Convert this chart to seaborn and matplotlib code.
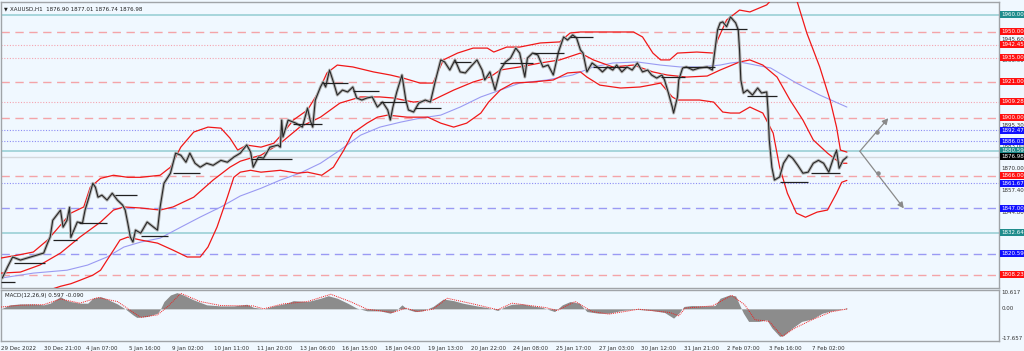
import numpy as np
import pandas as pd
import matplotlib
matplotlib.use("Agg")
import matplotlib.pyplot as plt
import matplotlib.transforms as mtransforms
import seaborn as sns

# ---------------- data (bar index = hourly bar number) ----------------
price_bar = [1, 5, 9, 15, 23, 28, 33, 36, 38, 40, 46, 48, 51, 53, 54, 59, 63, 65, 68, 71, 73, 75, 78, 82, 86, 90, 94, 96, 98, 100,
             102, 104, 108, 113, 118, 121, 123, 126, 129, 131, 133, 135, 139, 143, 146, 150, 154, 159, 164, 170, 175, 180, 185, 190,
             193, 195, 199, 203, 208, 214, 216, 217, 218, 222, 228, 233, 237, 239, 241, 243, 247, 249, 251, 254, 257, 260, 264, 268,
             272, 275, 279, 283, 287, 291, 295, 299, 301, 303, 306, 310, 313, 315, 319, 323, 328, 332, 336, 340, 343, 347, 351, 355,
             359, 363, 368, 372, 374, 378, 382, 386, 390, 394, 398, 401, 405, 407, 411, 415, 419, 423, 427, 431, 435, 438, 442, 445,
             448, 450, 453, 457, 461, 465, 469, 473, 476, 480, 484, 488, 492, 496, 500, 503, 507, 511, 513, 516, 519, 520, 523, 524,
             527, 530, 535, 540, 546, 550, 551, 554, 556, 558, 561, 564, 568, 570, 571, 572, 574, 577, 581, 585, 588, 592, 593, 594,
             596, 598, 602, 605, 609, 612, 616, 620, 624, 628, 632, 636, 640, 643, 646, 648, 651, 654]
price_close = [1806.3, 1812.7, 1818.6, 1816.8, 1818.6, 1819.7, 1820.9, 1826.7, 1830.2, 1840.0, 1845.9, 1836.0, 1840.0, 1847.6,
               1830.0, 1839.0, 1838.4, 1846.0, 1853.5, 1861.6, 1859.3, 1853.5, 1854.7, 1851.8, 1855.8, 1851.8, 1848.9, 1846.0,
               1838.4, 1830.2, 1827.3, 1834.3, 1832.5, 1839.0, 1836.0, 1834.3, 1847.6, 1861.6, 1865.1, 1867.5, 1873.3, 1879.2,
               1878.0, 1873.9, 1879.2, 1873.3, 1871.0, 1873.3, 1872.1, 1875.0, 1873.9, 1876.9, 1879.2, 1884.0, 1879.8, 1871.0,
               1876.9, 1876.3, 1882.7, 1883.9, 1882.7, 1898.5, 1888.6, 1898.5, 1896.7, 1894.4, 1905.5, 1898.5, 1894.4, 1910.2,
               1917.8, 1920.7, 1917.8, 1927.7, 1920.7, 1913.1, 1916.0, 1914.9, 1917.8, 1911.4, 1910.2, 1911.4, 1912.0, 1906.1,
               1909.0, 1904.4, 1898.5, 1906.1, 1914.9, 1924.8, 1910.2, 1904.4, 1903.2, 1908.4, 1910.2, 1909.0, 1921.9, 1933.6,
               1932.4, 1927.7, 1933.6, 1926.6, 1926.0, 1929.5, 1933.6, 1927.7, 1921.9, 1926.6, 1916.0, 1927.7, 1932.4, 1934.7,
               1940.5, 1937.6, 1923.6, 1934.7, 1937.6, 1936.5, 1929.5, 1930.6, 1924.8, 1938.2, 1947.0, 1945.2, 1948.2, 1946.4,
               1939.4, 1937.6, 1926.6, 1931.8, 1929.5, 1926.6, 1929.5, 1927.7, 1930.6, 1926.6, 1929.5, 1927.7, 1931.8, 1926.6,
               1927.7, 1924.8, 1923.0, 1924.8, 1921.9, 1914.3, 1906.1, 1902.6, 1912.0, 1921.9, 1928.9, 1929.5, 1927.7, 1928.9,
               1929.5, 1927.7, 1933.6, 1951.1, 1955.2, 1955.8, 1953.0, 1958.7, 1955.2, 1951.1, 1939.4, 1921.9, 1914.3, 1916.0,
               1913.1, 1917.2, 1914.3, 1914.9, 1904.4, 1886.9, 1871.0, 1863.5, 1865.3, 1873.3, 1878.0, 1876.3, 1872.1, 1867.5,
               1868.1, 1873.3, 1875.0, 1873.3, 1868.1, 1875.0, 1880.9, 1870.4, 1875.0, 1876.98]

upper_bar = [0, 13, 25, 36, 46, 54, 64, 69, 77, 87, 98, 108, 123, 131, 139, 149, 160, 170, 177, 183, 190, 201, 211, 218, 226,
             237, 245, 252, 260, 272, 288, 301, 311, 324, 334, 342, 353, 365, 376, 381, 391, 401, 417, 432, 440, 448, 473, 489,
             496, 504, 510, 517, 523, 538, 551, 554, 561, 571, 579, 592, 596, 606, 615, 623, 633, 641, 646, 649, 654]
upper_val = [1818.0, 1819.7, 1821.5, 1828.5, 1837.2, 1844.2, 1847.8, 1859.3, 1864.5, 1866.3, 1865.1, 1865.1, 1866.3, 1871.0,
             1882.7, 1891.5, 1894.4, 1893.8, 1888.0, 1881.0, 1883.9, 1882.7, 1885.0, 1890.9, 1898.5, 1904.4, 1914.3, 1926.0,
             1930.6, 1929.5, 1926.6, 1924.8, 1923.0, 1920.1, 1920.1, 1933.6, 1937.6, 1940.5, 1940.5, 1938.2, 1941.1, 1941.1,
             1943.5, 1944.1, 1949.3, 1949.9, 1949.9, 1949.9, 1947.0, 1937.6, 1933.6, 1933.6, 1937.6, 1938.2, 1937.6, 1945.2,
             1956.9, 1962.7, 1961.6, 1965.7, 1969.0, 1985.0, 1969.0, 1949.3, 1929.5, 1910.2, 1894.4, 1881.0, 1879.8]

middle_bar = [0, 15, 30, 46, 61, 77, 87, 95, 108, 123, 133, 149, 164, 177, 185, 193, 201, 216, 231, 247, 262, 278, 293, 303,
              319, 334, 350, 365, 378, 386, 401, 417, 432, 448, 458, 473, 489, 504, 515, 530, 546, 556, 564, 571, 579, 589, 600,
              610, 620, 628, 639, 649, 654]
middle_val = [1809.2, 1809.8, 1813.9, 1820.9, 1830.2, 1839.0, 1846.0, 1847.8, 1847.2, 1846.0, 1847.8, 1853.5, 1863.5, 1871.0,
              1874.5, 1876.3, 1878.0, 1885.0, 1894.4, 1900.2, 1908.4, 1912.0, 1912.0, 1911.4, 1909.0, 1910.2, 1916.0, 1920.7,
              1923.6, 1927.7, 1929.5, 1931.8, 1933.6, 1937.6, 1933.6, 1929.5, 1930.6, 1926.6, 1924.8, 1923.6, 1924.2, 1927.7,
              1930.2, 1932.4, 1933.6, 1930.6, 1923.6, 1910.2, 1898.5, 1886.9, 1879.2, 1873.3, 1873.3]

lower_bar = [30, 38, 46, 54, 61, 71, 77, 82, 87, 92, 98, 108, 121, 133, 144, 154, 160, 167, 175, 180, 185, 193, 201, 216, 229,
             237, 248, 257, 265, 272, 283, 291, 299, 314, 330, 340, 350, 360, 371, 377, 386, 396, 411, 427, 438, 448, 453, 463,
             479, 494, 502, 510, 519, 523, 540, 551, 558, 564, 571, 579, 589, 597, 602, 608, 615, 622, 631, 639, 646, 650, 654]
lower_val = [1795.0, 1799.5, 1801.5, 1803.0, 1805.0, 1808.0, 1810.9, 1816.8, 1822.6, 1828.5, 1830.2, 1828.5, 1826.7, 1822.6,
             1818.6, 1818.6, 1824.4, 1836.0, 1853.5, 1865.1, 1868.1, 1869.2, 1868.1, 1869.2, 1867.5, 1868.1, 1866.3, 1871.0,
             1880.9, 1890.9, 1896.7, 1900.2, 1901.4, 1900.2, 1900.2, 1896.7, 1894.4, 1896.7, 1902.6, 1909.0, 1916.0, 1920.1,
             1920.7, 1921.9, 1926.0, 1926.6, 1923.6, 1918.9, 1917.2, 1917.8, 1918.9, 1920.1, 1912.0, 1910.2, 1910.2, 1909.0,
             1903.2, 1902.6, 1902.6, 1906.1, 1902.6, 1890.9, 1871.0, 1855.8, 1844.2, 1841.8, 1844.8, 1846.0, 1855.8, 1862.2,
             1863.3]

ma_bar = [0, 25, 51, 67, 82, 95, 108, 123, 139, 154, 170, 185, 201, 216, 231, 247, 262, 278, 293, 309, 324, 340, 355, 371,
          386, 401, 422, 442, 458, 473, 492, 510, 525, 540, 556, 564, 571, 595, 615, 633, 654]
ma_val = [1806.3, 1809.2, 1810.9, 1813.9, 1818.6, 1824.4, 1827.3, 1829.6, 1836.0, 1841.9, 1847.8, 1854.2, 1858.7, 1863.5,
          1867.5, 1873.3, 1880.9, 1889.7, 1894.4, 1897.3, 1899.6, 1901.4, 1906.1, 1912.0, 1916.0, 1920.1, 1921.9, 1924.8,
          1929.5, 1931.8, 1932.4, 1930.6, 1929.5, 1929.5, 1930.6, 1931.8, 1932.4, 1928.9, 1920.1, 1913.1, 1906.1]

# short daily open segments: start bar, end bar, price
seg_start = [0, 10, 40, 60, 88, 108, 133, 193, 226, 249, 272, 293, 320, 350, 386, 411, 440, 458, 510, 527, 554, 577, 602, 626]
seg_end = [11, 34, 59, 82, 105, 129, 154, 225, 248, 268, 292, 313, 340, 363, 411, 435, 458, 484, 529, 552, 577, 600, 624, 649]
seg_price = [1804.3, 1815.0, 1828.5, 1838.6, 1854.7, 1830.8, 1867.8, 1875.6, 1896.2, 1920.4, 1915.6, 1909.2, 1905.4, 1932.6,
             1931.8, 1937.5, 1946.8, 1929.6, 1923.5, 1929.6, 1951.5, 1912.5, 1862.5, 1867.8]

# horizontal levels
level_prices = [1960.00, 1950.00, 1942.45, 1935.00, 1921.00, 1909.28, 1900.00, 1892.47, 1886.03, 1880.59, 1866.00, 1861.67,
                1847.00, 1832.64, 1820.59, 1808.23]
level_kinds = ["teal", "red_dash", "red_dot", "red_dot", "red_dash", "red_dot", "red_dash", "blue_dot", "blue_dot", "teal",
               "red_dash", "blue_dot", "blue_dash", "teal", "blue_dash", "red_dash"]
grid_labels = [1945.60, 1933.00, 1895.30, 1883.00, 1870.00, 1857.40, 1844.80]
bid_price = 1876.98

# projection arrows
arrow_start = (664, 1880.3)
arrow_up = (686, 1899.6)
arrow_down = (698, 1847.0)
arrow_dots_bar = [677, 678]
arrow_dots_price = [1891.7, 1867.6]

# MACD
macd_bar = [0, 7, 15, 25, 33, 38, 42, 46, 50, 54, 61, 67, 71, 77, 82, 90, 96, 102, 105, 113, 121, 123, 126, 131, 136, 141,
            149, 159, 170, 180, 190, 195, 203, 211, 221, 226, 237, 247, 253, 260, 268, 275, 283, 293, 301, 306, 310, 314, 320,
            326, 334, 342, 350, 357, 368, 376, 384, 390, 395, 403, 411, 418, 428, 434, 440, 447, 453, 462, 470, 480, 490, 503,
            513, 520, 524, 528, 534, 544, 552, 556, 563, 568, 571, 574, 578, 586, 592, 596, 602, 605, 612, 619, 627, 635, 642,
            650, 654]
macd_val = [0.0, 2.2, 2.7, 2.7, 2.2, 3.1, 4.9, 6.7, 4.9, 4.0, 3.1, 3.1, 5.8, 6.7, 5.3, 2.7, 0.0, -3.3, -4.7, -4.2, -2.4, -0.5,
            4.0, 7.6, 8.9, 7.6, 4.9, 2.2, 1.6, 1.6, 2.5, 0.9, 0.0, 1.6, 3.1, 4.5, 4.0, 5.8, 7.2, 5.8, 3.1, 0.4, -1.1, -1.1, -2.4,
            -0.5, 2.2, -0.2, -1.5, -1.1, 1.3, 5.4, 4.5, 3.1, 1.6, 0.7, -0.9, 1.3, 2.5, 2.7, 1.6, 0.9, -1.5, 2.2, 4.0, 3.1, -1.5,
            -2.4, -2.4, -0.9, -0.2, -0.9, -2.0, -5.1, -2.4, 1.3, 1.8, 1.6, 1.8, 5.8, 7.6, 7.1, 2.2, -2.4, -6.9, -6.9, -6.0,
            -10.5, -15.1, -14.7, -10.5, -6.9, -5.6, -2.4, -1.1, -0.2, 0.597]
signal_bar = [0, 15, 33, 46, 61, 75, 90, 108, 121, 129, 139, 154, 170, 195, 203, 218, 237, 255, 270, 283, 303, 313, 322, 334,
              345, 365, 384, 395, 421, 430, 444, 457, 470, 493, 517, 524, 529, 550, 565, 575, 583, 594, 604, 614, 627, 642, 654]
signal_val = [1.0, 2.0, 2.3, 5.4, 3.1, 6.2, 4.0, -4.7, -3.3, 1.3, 8.5, 4.0, 1.8, 1.6, 0.0, 2.7, 4.0, 8.0, 4.0, -0.2, -2.0,
              0.4, -1.5, -0.2, 5.8, 2.7, -0.5, 3.1, 0.7, -0.9, 4.0, -1.5, -2.9, -0.2, -2.0, -3.8, 0.4, 1.6, 7.4, 2.2, -6.0,
              -6.9, -15.1, -10.5, -6.0, -1.6, -0.09]

tick_labels = ["29 Dec 2022", "30 Dec 21:00", "4 Jan 07:00", "5 Jan 16:00", "9 Jan 02:00", "10 Jan 11:00", "11 Jan 20:00",
               "13 Jan 06:00", "16 Jan 15:00", "18 Jan 04:00", "19 Jan 13:00", "20 Jan 22:00", "24 Jan 08:00",
               "25 Jan 17:00", "27 Jan 03:00", "30 Jan 12:00", "31 Jan 21:00", "2 Feb 07:00", "3 Feb 16:00", "7 Feb 02:00"]
bars_per_tick = 33

# ---------------- styling ----------------
sns.set_style("white")
plt.rcParams["font.family"] = ["DejaVu Sans"]
BG = "#f0f8ff"
W, H = 1024, 351
fig = plt.figure(figsize=(W / 100, H / 100), dpi=100, facecolor=BG)

def frac(x0, y0, x1, y1):
    return [x0 / W, 1 - y1 / H, (x1 - x0) / W, (y1 - y0) / H]

ax = fig.add_axes(frac(1, 2, 999, 287.5))
axm = fig.add_axes(frac(1, 289.5, 999, 341), sharex=ax)
for a in (ax, axm):
    a.set_facecolor(BG)
    for s in a.spines.values():
        s.set_color("#a0a4a8")
        s.set_linewidth(1.0)

XMIN, XMAX = 0.3, 771.6
ax.set_xlim(XMIN, XMAX)
ax.set_ylim(1800.8, 1967.4)

level_style = {
    "teal": dict(color="#a6d6dc", ls="-", lw=1.4),
    "red_dash": dict(color="#f4a4a8", ls=(0, (6, 4)), lw=1.0),
    "red_dot": dict(color="#f4a4b0", ls=(0, (1, 1.5)), lw=0.8),
    "blue_dot": dict(color="#8c8cf4", ls=(0, (1, 1.5)), lw=0.8),
    "blue_dash": dict(color="#9a9af4", ls=(0, (6, 4)), lw=1.0),
}
for p, k in zip(level_prices, level_kinds):
    ax.axhline(p, zorder=1, **level_style[k])
ax.axhline(bid_price, color="#d4d8dc", lw=1.0, zorder=1)

# bands and MA
sns.lineplot(x=ma_bar, y=ma_val, ax=ax, color="#9a9af2", lw=0.8, zorder=2)
sns.lineplot(x=upper_bar, y=upper_val, ax=ax, color="#f01818", lw=0.9, zorder=3)
sns.lineplot(x=middle_bar, y=middle_val, ax=ax, color="#f01818", lw=0.9, zorder=3)
sns.lineplot(x=lower_bar, y=lower_val, ax=ax, color="#f01818", lw=0.9, zorder=3)

# price (candles approximated by a line with a soft gray body)
sns.lineplot(x=price_bar, y=price_close, ax=ax, color="#b4b4b4", lw=2.2, zorder=4)
sns.lineplot(x=price_bar, y=price_close, ax=ax, color="#262626", lw=0.8, zorder=5)
ax.hlines(seg_price, seg_start, seg_end, colors="#202020", lw=0.9, zorder=5)

# arrows
for tgt in (arrow_up, arrow_down):
    ax.annotate("", xy=tgt, xytext=arrow_start,
                arrowprops=dict(arrowstyle="-|>,head_length=0.35,head_width=0.18", color="#8a8a8a", lw=0.9,
                                shrinkA=0, shrinkB=0), zorder=6)
ax.scatter(arrow_dots_bar, arrow_dots_price, s=5, color="#8a8a8a", zorder=6)

ax.tick_params(axis="both", which="both", length=0, labelbottom=False, labelleft=False)
ax.set_xlabel("")
ax.set_ylabel("")

# right-side price labels
tr = mtransforms.blended_transform_factory(ax.transAxes, ax.transData)
FS = 4.0
for p in grid_labels:
    ax.text(1.0025, p, f"{p:.2f}", transform=tr, fontsize=FS, color="#303030", va="center", ha="left",
            clip_on=False, zorder=1)
box_colors = {"teal": "#1f8c8c", "red_dash": "#ff1010", "red_dot": "#ff1010", "blue_dot": "#1010ff", "blue_dash": "#1010ff"}
for p, k in zip(level_prices, level_kinds):
    ax.text(1.0025, p, f"{p:.2f}", transform=tr, fontsize=FS, color="white", va="center", ha="left", clip_on=False,
            zorder=10, bbox=dict(boxstyle="square,pad=0.18", fc=box_colors[k], ec="none"))
ax.text(1.0025, bid_price, f"{bid_price:.2f}", transform=tr, fontsize=FS, color="white", va="center", ha="left",
        clip_on=False, zorder=11, bbox=dict(boxstyle="square,pad=0.18", fc="#000000", ec="none"))

ax.text(0.003, 0.985, "\u25bc", transform=ax.transAxes, fontsize=3.5, color="#202020", va="top", ha="left")
ax.text(0.009, 0.985, "XAUUSD,H1  1876.90 1877.01 1876.74 1876.98", transform=ax.transAxes, fontsize=4,
        color="#202020", va="top", ha="left")

# ---------------- MACD ----------------
axm.set_ylim(-17.657, 10.617)
axm.fill_between(macd_bar, 0, macd_val, color="#8c8c8c", lw=0, zorder=2)
sns.lineplot(x=signal_bar, y=signal_val, ax=axm, color="#f02020", lw=0.7, ls=(0, (1, 1)), zorder=3)
axm.text(0.004, 0.93, "MACD(12,26,9) 0.597 -0.090", transform=axm.transAxes, fontsize=4, color="#202020",
         va="top", ha="left")
trm = mtransforms.blended_transform_factory(axm.transAxes, axm.transData)
for v, lab, va in [(10.617, "10.617", "top"), (0.0, "0.00", "center"), (-17.657, "-17.657", "bottom")]:
    axm.text(1.0025, v, lab, transform=trm, fontsize=FS, color="#303030", va=va, ha="left", clip_on=False)

ticks = [i * bars_per_tick for i in range(len(tick_labels))]
axm.set_xticks(ticks)
axm.set_xticklabels(tick_labels, fontsize=4, color="#303030", ha="left")
axm.tick_params(axis="x", direction="out", length=2.5, width=0.6, color="#606060", pad=1)
axm.tick_params(axis="y", length=0, labelleft=False)
axm.set_xlabel("")
axm.set_ylabel("")
for lg in (ax.get_legend(), axm.get_legend()):
    if lg:
        lg.remove()

fig.savefig("out.png", dpi=100, facecolor=BG)
